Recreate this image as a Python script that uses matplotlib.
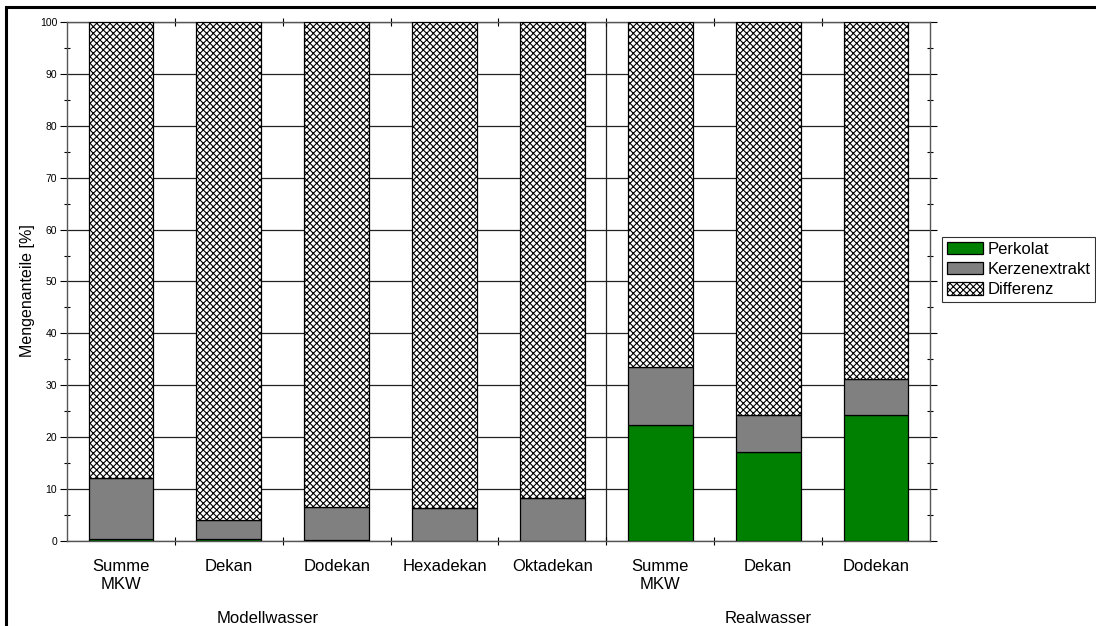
import numpy as np
import matplotlib.pyplot as plt
from matplotlib.patches import Rectangle
from matplotlib.ticker import MultipleLocator, FixedLocator, NullFormatter

plt.rcParams['font.family'] = ['Liberation Sans', 'DejaVu Sans']
plt.rcParams['hatch.linewidth'] = 0.8

categories = ['Summe\nMKW', 'Dekan', 'Dodekan', 'Hexadekan', 'Oktadekan',
              'Summe\nMKW', 'Dekan', 'Dodekan']
groups = ['Modellwasser', 'Realwasser']
group_pos = [1.36, 6.0]

perkolat = [0.4, 0.3, 0.1, 0.05, 0.05, 22.3, 17.2, 24.3]
kerzenextrakt = [11.7, 3.8, 6.5, 6.25, 8.25, 11.3, 7.0, 6.9]
differenz = [100 - p - k for p, k in zip(perkolat, kerzenextrakt)]

fig = plt.figure(figsize=(10.96, 6.26), dpi=100)
ax = fig.add_axes([0.0611, 0.1358, 0.7874, 0.8291])

x = np.arange(len(categories))
w = 0.6
ax.bar(x, perkolat, w, color='#008000', edgecolor='black', lw=0.9,
       label='Perkolat', zorder=3)
ax.bar(x, kerzenextrakt, w, bottom=perkolat, color='#808080',
       edgecolor='black', lw=0.9, label='Kerzenextrakt', zorder=3)
bottoms = [p + k for p, k in zip(perkolat, kerzenextrakt)]
ax.bar(x, differenz, w, bottom=bottoms, color='white', edgecolor='black',
       hatch='xxxxx', lw=0.9, label='Differenz', zorder=3)

ax.set_xlim(-0.5, len(categories) - 0.5)
ax.set_ylim(0, 100)

# grid and separator between Modellwasser and Realwasser
ax.yaxis.grid(True, color='#222222', lw=0.9, zorder=0)
ax.axvline(4.5, color='#222222', lw=0.9, zorder=1)

ax.yaxis.set_major_locator(MultipleLocator(10))
ax.yaxis.set_minor_locator(MultipleLocator(5))
ax.tick_params(axis='y', which='major', direction='out', length=5,
               width=0.8, labelsize=7.5, pad=2, right=True)
ax.tick_params(axis='y', which='minor', direction='inout', length=4,
               width=0.8, right=True)
ax.xaxis.set_major_locator(FixedLocator(np.arange(0.5, len(categories) - 1, 1)))
ax.xaxis.set_minor_locator(FixedLocator(x))
ax.xaxis.set_major_formatter(NullFormatter())
ax.tick_params(axis='x', which='major', direction='inout', length=6,
               width=0.8, top=True)
ax.tick_params(axis='x', which='minor', direction='in', length=3,
               width=0.8, labelbottom=False)
for s in ax.spines.values():
    s.set_color('#555555')
    s.set_linewidth(1.0)

for xi, lab in zip(x, categories):
    ax.text(xi, -3.5, lab, ha='center', va='top', fontsize=12,
            linespacing=1.25)

for g, gx in zip(groups, group_pos):
    ax.text(gx, -13.4, g, ha='center', va='top', fontsize=12)

ax.set_ylabel('Mengenanteile [%]', fontsize=11.5)
ax.yaxis.set_label_coords(-0.037, 0.482)

leg = ax.legend(loc='upper left', bbox_to_anchor=(1.014, 0.586),
                fontsize=12, frameon=True, fancybox=False, edgecolor='black',
                borderpad=0.28, labelspacing=0.3, handlelength=2.15,
                handleheight=0.8, handletextpad=0.3, borderaxespad=0)
leg.get_frame().set_linewidth(0.8)

# outer frame (only top and left edges fall inside the image)
fig.patches.append(Rectangle((6 / 1096, -0.1), 1.2, 0.1 + 619 / 626,
                             transform=fig.transFigure, fill=False,
                             edgecolor='black', lw=2.2))

fig.savefig('out.png', dpi=100)
